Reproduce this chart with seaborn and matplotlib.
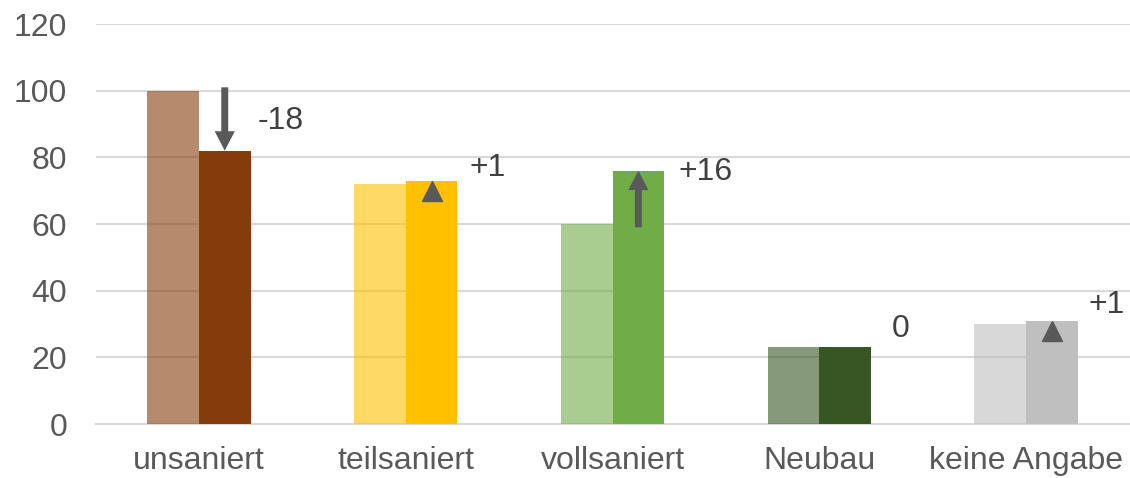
import matplotlib
matplotlib.use("Agg")
import matplotlib.pyplot as plt
import seaborn as sns
import pandas as pd
from matplotlib.colors import to_rgba

# ---- data ----
categories = ["unsaniert", "teilsaniert", "vollsaniert", "Neubau", "keine Angabe"]
before = [100, 72, 60, 23, 30]
after = [82, 73, 76, 23, 31]
dark_colors = ["#843C0C", "#FFC000", "#70AD47", "#375623", "#BFBFBF"]
y_ticks = [0, 20, 40, 60, 80, 100, 120]

# label placement (layout only): x offset from category centre, y position
label_dx = [0.285, 0.31, 0.32, 0.35, 0.30]
label_y = [91, 76.8, 75.7, 28.5, 35.6]

sns.set_theme(style="white")
plt.rcParams["font.family"] = ["Liberation Sans", "DejaVu Sans"]

df = pd.DataFrame({
    "Kategorie": categories * 2,
    "Zeitpunkt": ["vorher"] * len(categories) + ["nachher"] * len(categories),
    "Wert": before + after,
})

fig = plt.figure(figsize=(11.3, 4.78), dpi=100)
ax = fig.add_axes([95.5 / 1130, 54 / 478, 1034 / 1130, 400 / 478])

sns.barplot(data=df, x="Kategorie", y="Wert", hue="Zeitpunkt", order=categories,
            hue_order=["vorher", "nachher"], width=0.5, gap=0, saturation=1,
            errorbar=None, ax=ax, legend=False, linewidth=0)

# recolour: first container = before (60 % alpha), second = after (solid)
for ci, cont in enumerate(ax.containers):
    for i, patch in enumerate(cont.patches):
        if ci == 0:
            patch.set_facecolor(to_rgba(dark_colors[i], 0.6))
        else:
            patch.set_facecolor(to_rgba(dark_colors[i], 1.0))
        patch.set_edgecolor("none")
        patch.set_zorder(3 if ci == 1 else 2.5)

ax.set_xlim(-0.5, len(categories) - 0.5)
ax.set_ylim(0, 120)
ax.set_yticks(y_ticks)
ax.set_yticklabels([str(v) for v in y_ticks])
ax.set_xlabel("")
ax.set_ylabel("")

ax.set_axisbelow(True)
ax.yaxis.grid(True, color="#D9D9D9", linewidth=1.5, zorder=0)
ax.xaxis.grid(False)
for s in ["top", "right", "left"]:
    ax.spines[s].set_visible(False)
ax.spines["bottom"].set_color("#D9D9D9")
ax.spines["bottom"].set_linewidth(1.5)
ax.spines["bottom"].set_zorder(1)

ax.tick_params(axis="y", length=0, pad=20.5, labelsize=23, labelcolor="#595959")
ax.tick_params(axis="x", length=0, pad=16, labelsize=23, labelcolor="#595959")

arrow_color = "#595959"
for i, (b, a) in enumerate(zip(before, after)):
    xc = i + 0.125
    delta = a - b
    if abs(delta) >= 5:
        ax.annotate("", xy=(xc, a), xytext=(xc, b + (1 if delta < 0 else -1)),
                    arrowprops=dict(facecolor=arrow_color, edgecolor="none",
                                    width=5.0, headwidth=14.5, headlength=14,
                                    shrink=0),
                    zorder=5)
    elif delta != 0:
        ax.plot([xc], [a - 3], marker="^", markersize=14.4, color=arrow_color,
                linestyle="none", zorder=5)
    txt = f"{delta:+d}" if delta != 0 else "0"
    ax.text(i + label_dx[i], label_y[i], txt, fontsize=23, color="#404040",
            ha="left", va="center", zorder=6)

fig.savefig("out.png", dpi=100)
